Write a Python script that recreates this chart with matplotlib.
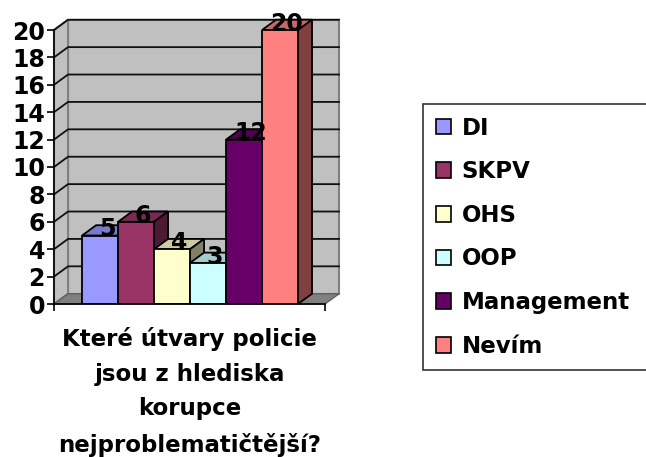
import matplotlib.pyplot as plt
from matplotlib.patches import Polygon, Patch
import matplotlib.colors as mcolors
import numpy as np

plt.rcParams['font.family'] = ['DejaVu Sans']
plt.rcParams['font.weight'] = 'bold'

categories = ['DI', 'SKPV', 'OHS', 'OOP', 'Management', 'Nevím']
values = [5, 6, 4, 3, 12, 20]
colors = ['#9999FF', '#993366', '#FFFFCC', '#CCFFFF', '#660066', '#FF8080']
yticks = list(range(0, 21, 2))
xlabel = 'Které útvary policie\njsou z hlediska\nkorupce\nnejproblematičtější?'

W, H = 646, 457
fig = plt.figure(figsize=(W / 100, H / 100), dpi=100)
ax = fig.add_axes([54 / W, 1 - 304 / H, (325 - 54) / W, (304 - 30) / H])

x0, x1 = -1.28, 6.25
ymax = 20
dx, dy = 0.39, 0.75   # depth offset (data units)
ax.set_xlim(x0, x1)
ax.set_ylim(0, ymax)
ax.patch.set_visible(False)

wall = '#C0C0C0'
edge = '#808080'
# back wall
ax.add_patch(Polygon([(x0 + dx, dy), (x1 + dx, dy), (x1 + dx, ymax + dy), (x0 + dx, ymax + dy)],
                     closed=True, fc=wall, ec=edge, lw=1.5, clip_on=False, zorder=0))
# side wall
ax.add_patch(Polygon([(x0, 0), (x0 + dx, dy), (x0 + dx, ymax + dy), (x0, ymax)],
                     closed=True, fc=wall, ec=edge, lw=1.5, clip_on=False, zorder=0))
# floor
ax.add_patch(Polygon([(x0, 0), (x1, 0), (x1 + dx, dy), (x0 + dx, dy)],
                     closed=True, fc='#808080', ec='#606060', lw=1, clip_on=False, zorder=0.5))
# gridlines
for v in yticks[1:]:
    ax.plot([x0, x0 + dx, x1 + dx], [v, v + dy, v + dy], color='#101010', lw=1.3,
            clip_on=False, zorder=0.6)

# 3d bars
for i, (v, c) in enumerate(zip(values, colors)):
    rgb = np.array(mcolors.to_rgb(c))
    l, r = i - 0.5, i + 0.5
    z = 2 + i
    ax.bar(i, v, width=1, color=c, edgecolor='black', linewidth=1.3, zorder=z + 0.2)
    ax.add_patch(Polygon([(l, v), (r, v), (r + dx, v + dy), (l + dx, v + dy)], closed=True,
                         fc=rgb * 0.8, ec='black', lw=1.3, clip_on=False, zorder=z))
    ax.add_patch(Polygon([(r, 0), (r + dx, dy), (r + dx, v + dy), (r, v)], closed=True,
                         fc=rgb * 0.5, ec='black', lw=1.3, clip_on=False, zorder=z))
    ax.text(i + dx / 2, v + dy * 0.6, str(v), ha='center', va='center',
            fontsize=17, fontweight='bold', zorder=20, clip_on=False)

for s in ['top', 'right']:
    ax.spines[s].set_visible(False)
for s in ['left', 'bottom']:
    ax.spines[s].set_color('black')
    ax.spines[s].set_linewidth(1.2)
    ax.spines[s].set_zorder(15)

ax.set_yticks(yticks)
ax.set_yticklabels([str(t) for t in yticks], fontsize=17, fontweight='bold')
ax.tick_params(axis='y', length=5, width=1.2, pad=1.5)
ax.set_xticks([x0, x1])
ax.set_xticklabels(['', ''])
ax.tick_params(axis='x', length=5, width=1.2)
ax.set_xlabel(xlabel, fontsize=16.5, fontweight='bold', linespacing=1.65, labelpad=8)

handles = [Patch(facecolor=c, edgecolor='black', linewidth=1.2) for c in colors]
leg = fig.legend(handles, categories, loc='upper left',
                 bbox_to_anchor=(423 / W, 1 - 104 / H, (652 - 423) / W, 0.0),
                 mode='expand', bbox_transform=fig.transFigure, borderaxespad=0,
                 fontsize=16.5, frameon=True, fancybox=False, edgecolor='black',
                 handlelength=0.68, handleheight=0.68, handletextpad=0.45,
                 labelspacing=0.9, borderpad=0.55)
leg.get_frame().set_linewidth(1.2)
for t in leg.get_texts():
    t.set_fontweight('bold')

fig.savefig('out.png', dpi=100, facecolor='white')
